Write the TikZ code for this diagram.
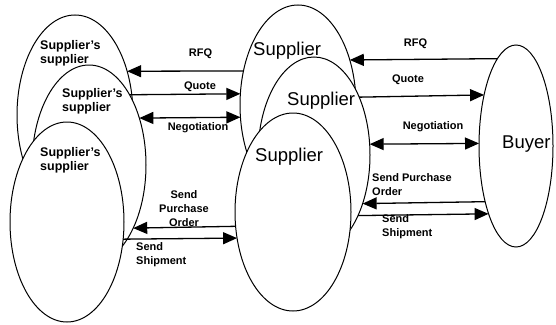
\documentclass[tikz,border=0pt]{standalone}
\usepackage{fontspec}
\setmainfont{Liberation Sans}
\usetikzlibrary{shapes.geometric,arrows.meta}

\begin{document}
\begin{tikzpicture}[x=1pt,y=-1pt,
  party/.style={draw,ellipse,fill=white,line width=1pt,inner sep=0pt,outer sep=0pt},
  flow/.style={line width=1.3pt,-{Triangle[length=14pt,width=12pt]}},
  twoway/.style={line width=1.3pt,{Triangle[length=14pt,width=12pt]}-{Triangle[length=14pt,width=12pt]}},
  small/.style={font=\fontsize{11}{14}\selectfont\bfseries,inner sep=0pt},
  tier/.style={font=\fontsize{12.5}{13.5}\selectfont\bfseries,inner sep=0pt,align=left,anchor=base west},
  big/.style={font=\fontsize{18.5}{20}\selectfont,inner sep=0pt,anchor=base west}]

\useasboundingbox (0,0) rectangle (556,324);

% second tier suppliers, back to front
\node[party,minimum width=116pt,minimum height=200pt] (e1) at (75,115) {};
\node[party,minimum width=114pt,minimum height=200pt] (e2) at (89,165) {};
\node[party,minimum width=114pt,minimum height=200pt] (e3) at (67,222) {};

% first tier suppliers, back to front
\node[party,minimum width=116pt,minimum height=200pt] (sa) at (298,105) {};
\node[party,minimum width=112pt,minimum height=196pt] (sb) at (314,155) {};
\node[party,minimum width=116pt,minimum height=198pt] (sc) at (293,212) {};

% buyer
\node[party,minimum width=74pt,minimum height=202pt] (by) at (516,146) {};

% party names (multi-line nodes sit on the baseline of their last line)
\node[tier] (t1) at (40,63) {Supplier's\\supplier};
\node[tier] (t2) at (62,111) {Supplier's\\supplier};
\node[tier] (t3) at (40,170) {Supplier's\\supplier};
\node[big] (ta) at (253,55) {Supplier};
\node[big] (tb) at (287,105) {Supplier};
\node[big] (tc) at (255,161) {Supplier};
\node[big] (tby) at (502,148) {Buyer};

% exchanges between second and first tier
\draw[flow] (sa.148) -- (e1.40.2);
\draw[flow] (e2.60.5) -- (sa.169.2);
\draw[twoway] (e2.43.06) -- (sa.192.74);
\draw[flow] (sc.194.67) -- (e2.305.8);
\draw[flow] (e3.343.17) -- (sc.205.82);

% exchanges between first tier and buyer
\draw[flow] (by.102.2) -- (sa.41.77);
\draw[flow] (sb.52.85) -- (by.122.7);
\draw[twoway] (sb.11.19) -- (by.176.9);
\draw[flow] (by.241.85) -- (sb.315.5);
\draw[flow] (sb.306.44) -- (by.248.63);

% exchange labels
\node[small,anchor=base] (l1) at (200.5,56) {RFQ};
\node[small,anchor=base] (l2) at (200,89) {Quote};
\node[small,anchor=base] (l3) at (198,130) {Negotiation};
\node[small,anchor=base,align=center] (l4) at (184,226) {Send\\Purchase\\Order};
\node[small,anchor=base west,align=left] (l5) at (136,264) {Send\\Shipment};

\node[small,anchor=base] (r1) at (415.5,46) {RFQ};
\node[small,anchor=base] (r2) at (408,82) {Quote};
\node[small,anchor=base] (r3) at (433,129.5) {Negotiation};
\node[small,anchor=base west,align=left] (r4) at (372,195) {Send Purchase\\Order};
\node[small,anchor=base west,align=left] (r5) at (382,236) {Send\\Shipment};

\end{tikzpicture}
\end{document}
